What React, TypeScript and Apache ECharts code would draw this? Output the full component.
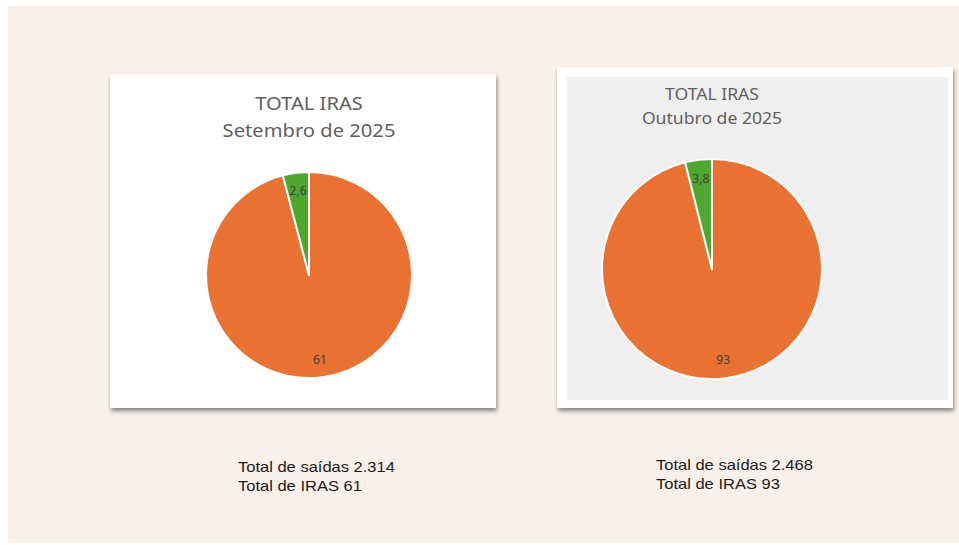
import React, { useEffect, useRef } from "react";
import * as echarts from "echarts";

const sliceNames = ["Total de IRAS", "Taxa de IRAS (%)"];
const sliceColors = ["#E97132", "#4EA72E"];
const setembroValues = [61, 2.6];
const outubroValues = [93, 3.8];
const mainTitle = "TOTAL IRAS";
const periods = ["Setembro de 2025", "Outubro de 2025"];
const totalSaidas = ["2.314", "2.468"];
const totalIras = ["61", "93"];

const fmt = (v: number) => String(v).replace(".", ",");

function pieSeries(values: number[], center: [number, number], r: number) {
  const data = values.map((v, i) => ({ name: sliceNames[i], value: v, itemStyle: { color: sliceColors[i] } }));
  return [
    {
      type: "pie",
      center,
      radius: [0, r],
      startAngle: 90,
      clockwise: true,
      silent: true,
      label: { show: false },
      labelLine: { show: false },
      itemStyle: { borderColor: "#ffffff", borderWidth: 2 },
      emphasis: { disabled: true },
      data,
    },
    {
      type: "pie",
      center,
      radius: [r * 0.6, r],
      startAngle: 90,
      clockwise: true,
      silent: true,
      z: 3,
      itemStyle: { color: "rgba(0,0,0,0)", borderWidth: 0 },
      label: {
        show: true,
        position: "inside",
        formatter: (p: any) => fmt(p.value),
        color: "#404040",
        fontSize: 12,
        fontFamily: "Noto Sans",
      },
      labelLine: { show: false },
      emphasis: { disabled: true },
      data: values.map((v, i) => ({ name: sliceNames[i], value: v })),
    },
  ];
}

export default function App() {
  const ref = useRef<HTMLDivElement>(null);
  useEffect(() => {
    if (!ref.current) return;
    const chart = echarts.init(ref.current, undefined, { renderer: "svg" });
    const titleStyle = { fill: "#5f5f5f", fontFamily: "Noto Sans", textAlign: "center", textVerticalAlign: "middle" };
    const noteStyle = { fill: "#1a1a1a", fontFamily: "Liberation Sans", fontSize: 14, textVerticalAlign: "middle" };
    chart.setOption({
      animation: false,
      backgroundColor: "#ffffff",
      graphic: [
        { type: "rect", z: 0, shape: { x: 8, y: 6, width: 951, height: 537 }, style: { fill: "#FAF0EA" } },
        {
          type: "rect",
          z: 1,
          shape: { x: 110, y: 74, width: 386, height: 334 },
          style: { fill: "#ffffff", shadowColor: "rgba(0,0,0,0.45)", shadowBlur: 4, shadowOffsetX: 1, shadowOffsetY: 3 },
        },
        {
          type: "rect",
          z: 1,
          shape: { x: 557, y: 67, width: 396, height: 341 },
          style: { fill: "#ffffff", shadowColor: "rgba(0,0,0,0.45)", shadowBlur: 4, shadowOffsetX: 1, shadowOffsetY: 3 },
        },
        { type: "rect", z: 1, shape: { x: 567, y: 77, width: 381, height: 323 }, style: { fill: "#EFEFEF" } },
        { type: "text", z: 5, x: 309, y: 103, scaleX: 1.12, style: { ...titleStyle, text: mainTitle, fontSize: 18 } },
        { type: "text", z: 5, x: 309, y: 130, scaleX: 1.12, style: { ...titleStyle, text: periods[0], fontSize: 18 } },
        { type: "text", z: 5, x: 712, y: 94, scaleX: 1.1, style: { ...titleStyle, text: mainTitle, fontSize: 16 } },
        { type: "text", z: 5, x: 712, y: 118, scaleX: 1.1, style: { ...titleStyle, text: periods[1], fontSize: 16 } },
        { type: "text", z: 5, x: 238, y: 467, scaleX: 1.18, style: { ...noteStyle, text: `Total de saídas ${totalSaidas[0]}` } },
        { type: "text", z: 5, x: 238, y: 486, scaleX: 1.18, style: { ...noteStyle, text: `Total de IRAS ${totalIras[0]}` } },
        { type: "text", z: 5, x: 656, y: 465, scaleX: 1.18, style: { ...noteStyle, text: `Total de saídas ${totalSaidas[1]}` } },
        { type: "text", z: 5, x: 656, y: 484, scaleX: 1.18, style: { ...noteStyle, text: `Total de IRAS ${totalIras[1]}` } },
      ],
      series: [...pieSeries(setembroValues, [309, 275], 103), ...pieSeries(outubroValues, [712, 269], 110)],
    });
    return () => chart.dispose();
  }, []);
  return <div ref={ref} style={{ position: "fixed", left: 0, top: 0, width: 959, height: 545 }} />;
}
